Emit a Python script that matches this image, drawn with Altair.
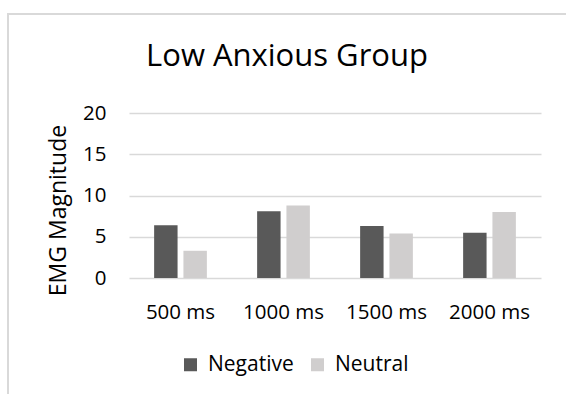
import altair as alt
import pandas as pd

# Mean EMG magnitude by stimulus duration and picture type
durations = ["500 ms", "1000 ms", "1500 ms", "2000 ms"]
negative = [6.4, 8.1, 6.3, 5.5]
neutral = [3.3, 8.8, 5.4, 8.0]
conditions = ["Negative", "Neutral"]
colors = ["#595959", "#d0cece"]
y_ticks = [0, 5, 10, 15, 20]

rows = []
for d, neg, neu in zip(durations, negative, neutral):
    rows.append({"Duration": d, "Condition": "Negative", "Value": neg})
    rows.append({"Duration": d, "Condition": "Neutral", "Value": neu})
df = pd.DataFrame(rows)

FONT = "Open Sans"
W, H = 412, 165
LEFT, TOP = 129, 113

bars = alt.Chart(df).mark_bar().encode(
    x=alt.X("Duration:N", sort=durations,
            scale=alt.Scale(paddingInner=0.488, paddingOuter=0.244),
            axis=alt.Axis(title=None, labelAngle=0, ticks=False, domain=False,
                          labelFontSize=20.5, labelFont=FONT, labelColor="#000000",
                          labelBaseline="alphabetic", labelPadding=40, grid=False)),
    xOffset=alt.XOffset("Condition:N", sort=conditions,
                        scale=alt.Scale(paddingInner=0.2, paddingOuter=0)),
    y=alt.Y("Value:Q", scale=alt.Scale(domain=[0, 20], nice=False),
            axis=alt.Axis(values=y_ticks, title="EMG Magnitude", ticks=False, domain=False,
                          labelFontSize=20.5, labelFont=FONT, labelColor="#000000",
                          labelPadding=23, gridColor="#d9d9d9", gridWidth=1.3,
                          titleFontSize=23, titleFont=FONT, titleFontWeight="normal",
                          titleColor="#000000", titleAngle=270, titleAlign="center",
                          titleBaseline="alphabetic", titleX=-64, titleY=97)),
    color=alt.Color("Condition:N", sort=conditions,
                    scale=alt.Scale(domain=conditions, range=colors),
                    legend=alt.Legend(title=None, orient="none", direction="horizontal",
                                      legendX=51, legendY=241, padding=0,
                                      symbolType="square", symbolSize=169,
                                      symbolStrokeWidth=0, symbolOpacity=1,
                                      labelFontSize=21, labelFont=FONT,
                                      labelColor="#000000", labelOffset=7,
                                      columnPadding=13)),
)

# light grey chart-area border
frame = alt.Chart(df).mark_rect(fill=None, stroke="#d9d9d9", strokeWidth=1.6).encode(
    x=alt.value(8 - LEFT), x2=alt.value(620 - LEFT),
    y=alt.value(14 - TOP), y2=alt.value(420 - TOP),
)

chart = alt.layer(frame, bars).properties(
    width=W, height=H,
    title=alt.TitleParams("Low Anxious Group", font=FONT, fontSize=31,
                          fontWeight="normal", color="#000000",
                          anchor="middle", dx=-48, dy=64),
    autosize=alt.AutoSizeParams(type="none"),
    padding={"left": LEFT, "top": TOP, "right": 566 - LEFT - W, "bottom": 394 - TOP - H},
    background="white",
).configure_view(stroke=None)

chart.save("out.html", embed_options={"renderer": "svg", "actions": False})
